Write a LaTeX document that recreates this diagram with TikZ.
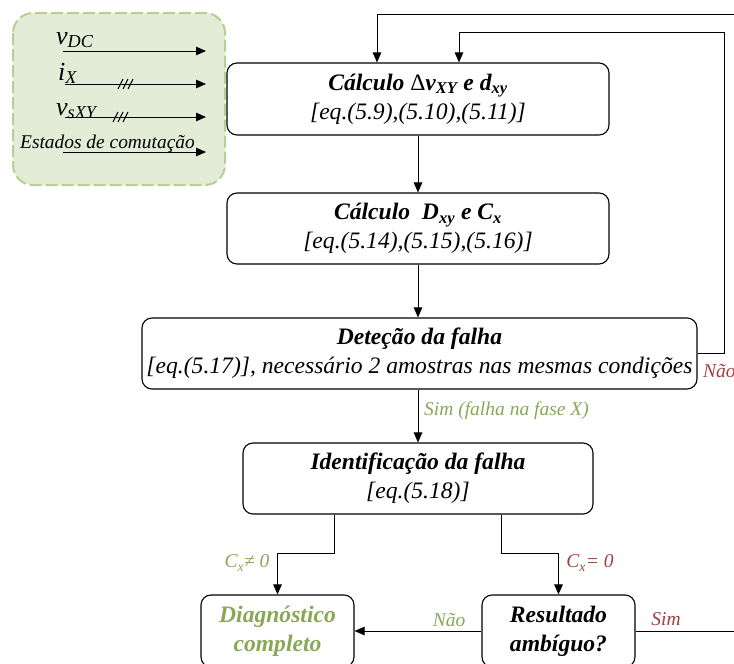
\documentclass[tikz,border=0pt]{standalone}
\usepackage{fontspec}
\setmainfont{Liberation Serif}
\usetikzlibrary{arrows.meta}
\definecolor{yesgreen}{RGB}{137,168,86}
\definecolor{nored}{RGB}{163,62,62}
\definecolor{panelfill}{RGB}{227,236,214}
\definecolor{paneledge}{RGB}{184,206,146}
\newcommand\sub[1]{\textsubscript{#1}}
\begin{document}
\begin{tikzpicture}[x=1pt,y=-1pt,
  stepbox/.style={draw, line width=1.1pt, rounded corners=10pt, inner sep=0pt,
    align=center, font=\fontsize{23.6}{29}\selectfont\itshape},
  flow/.style={line width=1pt, -{Triangle[length=10pt,width=8.5pt]}},
  tag/.style={font=\fontsize{19.5}{22}\selectfont\itshape, inner sep=0pt},
  sig/.style={font=\fontsize{26}{26}\selectfont\itshape, inner sep=0pt, anchor=base west}]
\useasboundingbox (0,0) rectangle (734,664);

% input signals panel
\draw[paneledge, fill=panelfill, line width=2pt, dash pattern=on 12pt off 4pt,
  rounded corners=20pt] (13,13) rectangle (225,185);
\foreach \k/\xa/\y in {1/63/51, 2/65/84, 3/65/117, 4/63/152}{
  \coordinate (sin\k) at (\xa,\y);
  \coordinate (sout\k) at (206,\y);
  \draw[flow] (sin\k) -- (sout\k);
}
% bus markers
\foreach \xa in {118,123,128}{\draw[line width=1pt] (\xa,89) -- (\xa+5,79);}
\foreach \xa in {113,118,123}{\draw[line width=1pt] (\xa,122) -- (\xa+5,112);}
\node[sig] (lvdc) at (56,44) {v\sub{DC}};
\node[sig] (lix) at (58,80) {i\sub{X}};
\node[sig] (lvs) at (56,115) {v\sub{sXY}};
\node[sig, font=\fontsize{19.4}{19}\selectfont\itshape] (lest) at (20,148) {Estados de comutação};

% process blocks
\node[stepbox, minimum width=382pt, minimum height=72pt] (calc1) at (418,99)
  {\textbf{Cálculo {\mdseries\upshape Δ}v\sub{XY} e d\sub{xy}}\\{[}eq.(5.9),(5.10),(5.11)]};
\node[stepbox, minimum width=382pt, minimum height=71pt] (calc2) at (418,228.5)
  {\textbf{Cálculo\ \ D\sub{xy} e C\sub{x}}\\{[}eq.(5.14),(5.15),(5.16)]};
\node[stepbox, minimum width=555pt, minimum height=71pt] (detect) at (419.5,353.5)
  {\textbf{Deteção da falha}\\{[}eq.(5.17)], necessário 2 amostras nas mesmas condições};
\node[stepbox, minimum width=350pt, minimum height=71pt] (ident) at (418,478.5)
  {\textbf{Identificação da falha}\\{[}eq.(5.18)]};
\node[stepbox, minimum width=153pt, minimum height=72pt, text=yesgreen] (diag) at (277.5,631)
  {\textbf{Diagnóstico}\\\textbf{completo}};
\node[stepbox, minimum width=153pt, minimum height=72pt] (ambig) at (558.5,631)
  {\textbf{Resultado}\\\textbf{ambíguo?}};

% loop-back corners
\coordinate (loopA) at (748,14);
\coordinate (loopB) at (724,32);

% connectors
\draw[flow] (calc1.south) -- (calc2.north);
\draw[flow] (calc2.south) -- (calc2.south |- detect.north);
\draw[flow] (detect.south -| ident.north) -- (ident.north);
\draw[flow] ([xshift=-84pt]ident.south) -- ++(0,39) -| (diag.north);
\draw[flow] ([xshift=83pt]ident.south) -- ++(0,39) -| (ambig.north);
\draw[flow] (ambig.west) -- (diag.east);
\draw[flow] (ambig.east) -| (loopA) -| ([xshift=-41pt]calc1.north);
\draw[flow] (detect.east) -| (loopB) -| ([xshift=41pt]calc1.north);

% branch labels
\node[tag, text=yesgreen, anchor=west] (tsim1) at (424,411) {Sim (falha na fase X)};
\node[tag, text=nored, anchor=west] (tnao1) at (703,371) {Não};
\node[tag, text=yesgreen] (tcne) at (247,563) {C\sub{x}≠ 0};
\node[tag, text=nored] (tceq) at (590,563) {C\sub{x}= 0};
\node[tag, text=yesgreen] (tnao2) at (449,620) {Não};
\node[tag, text=nored] (tsim2) at (666,619) {Sim};
\end{tikzpicture}
\end{document}
